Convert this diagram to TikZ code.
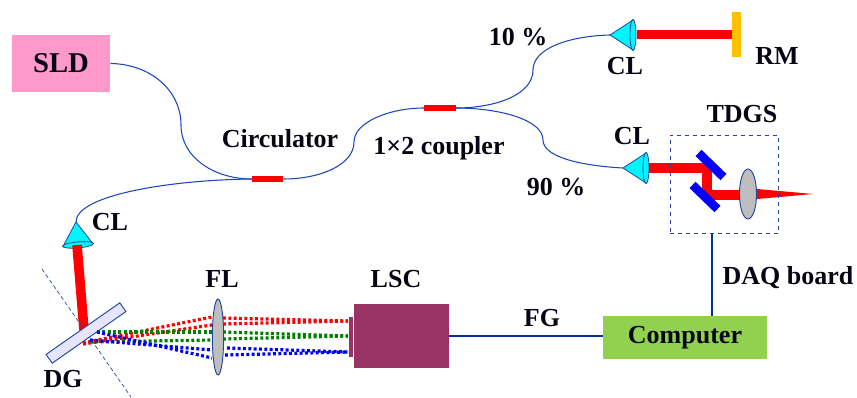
\documentclass[tikz,border=0pt]{standalone}
\usepackage{fontspec}
\setmainfont{Liberation Serif}
\usetikzlibrary{shapes.geometric}
\definecolor{fiber}{RGB}{30,70,190}
\definecolor{edgeblue}{RGB}{30,70,160}
\definecolor{wireblue}{RGB}{0,51,153}
\definecolor{conecyan}{RGB}{0,245,255}
\definecolor{lensgray}{RGB}{190,190,190}
\definecolor{sldpink}{RGB}{255,153,204}
\definecolor{lscplum}{RGB}{153,51,102}
\definecolor{pcgreen}{RGB}{146,208,80}
\definecolor{rmyellow}{RGB}{255,192,0}
\definecolor{raygreen}{RGB}{0,128,0}
\definecolor{labelink}{RGB}{5,5,20}
\tikzset{
  lbl/.style={font=\bfseries\fontsize{19.5}{21}\selectfont, text=labelink, inner sep=0pt},
  fib/.style={draw=fiber, line width=0.8pt},
  beam/.style={draw=red, line width=7.2pt},
  wire/.style={draw=wireblue, line width=2pt},
  splice/.style={fill=red, draw=none, minimum width=23.5pt, minimum height=4.5pt, inner sep=0pt},
  lens/.style={ellipse, draw=edgeblue, fill=lensgray, line width=0.7pt, inner sep=0pt},
  mir/.style={fill=blue, draw=none, minimum width=26pt, minimum height=6.5pt, inner sep=0pt},
  ray/.style={line width=2.4pt, dash pattern=on 2.2pt off 1.8pt},
}
\newcommand{\collim}[3]{% name, tip position, rotation
  \begin{scope}[shift={(#2)}, rotate=#3]
    \coordinate (#1) at (0,0);
    \fill[conecyan, draw=edgeblue, line width=0.6pt] (0,0) -- (23,-15) -- (23,15) -- cycle;
    \draw[fill=conecyan, draw=edgeblue, line width=0.6pt] (23,0) ellipse (3 and 15.5);
  \end{scope}}
\begin{document}
\begin{tikzpicture}[x=0.75pt,y=-0.75pt]
\useasboundingbox (0,0) rectangle (857,398);

% top part
\node[fill=sldpink, minimum width=73.5pt, minimum height=43pt, inner sep=0pt, text=labelink, font=\bfseries\fontsize{21.5}{23}\selectfont] (SLD) at (61,63.5) {\raisebox{-1.8pt}{SLD}};
\node[splice] (circ) at (267.5,179) {};
\node[splice] (coup) at (440,108) {};

\collim{cl1}{610,35}{0}
\collim{cl2}{623,168}{0}
\collim{cl3}{76,222}{-85}

\draw[fib] (SLD.east) .. controls (150,64) and (181,90) .. (181,125)
  .. controls (181,158) and (215,179) .. (circ.west);
\draw[fib] (circ.west) .. controls (170,180) and (76,195) .. (cl3);
\draw[fib] (circ.east) .. controls (320,179) and (354,165) .. (354,142)
  .. controls (354,122) and (390,108) .. (coup.west);
\draw[fib] (coup.east) .. controls (495,108) and (533,95) .. (533,70)
  .. controls (533,48) and (570,36) .. (cl1);
\draw[fib] (coup.east) .. controls (500,108) and (543,120) .. (543,140)
  .. controls (543,158) and (585,166) .. (cl2);

% beams
\node[fill=rmyellow, draw=none, minimum width=6.5pt, minimum height=34pt, inner sep=0pt] (RMbar) at (736.5,34.5) {};
\draw[beam] (637,34.5) -- (RMbar.west);
\draw[beam] (649,168) -- (707,168) -- (707,195) -- (745,195);
\node[mir, rotate=-44] (m1) at (711,165) {};
\node[mir, rotate=-44] (m2) at (705,197) {};
\node[lens, minimum width=12.8pt, minimum height=37.5pt] (tl) at (748,194) {};
\fill[red] (tl.east |- 0,189) -- (813,194) -- (tl.east |- 0,199) -- cycle;
\node[draw=edgeblue, dashed, line width=0.7pt, minimum width=81pt, minimum height=74pt, inner sep=0pt] (TDGS) at (724,184.5) {};

% grating side
\draw[beam] (77,245) -- (84,330);
\draw[edgeblue, densely dashed, line width=0.5pt] (42,269) -- (131,397);
\node[draw=edgeblue, fill=blue!10!white, rotate=35, minimum width=67.5pt, minimum height=8pt, inner sep=0pt, line width=0.7pt] (DG) at (86,333) {};
\node[lens, minimum width=8.5pt, minimum height=57pt] (fl) at (218,337) {};

\draw[ray, red] (83,343) -- (212,317);
\draw[ray, red] (83,344) -- (212,325);
\draw[ray, red] (223,318) -- (348,321);
\draw[ray, red] (223,324) -- (348,321);
\draw[ray, raygreen] (97,332) -- (212,332);
\draw[ray, raygreen] (90,342) -- (212,340);
\draw[ray, raygreen] (223,332) -- (348,336);
\draw[ray, raygreen] (223,339) -- (348,336);
\draw[ray, blue] (97,332) -- (212,358);
\draw[ray, blue] (90,340) -- (212,350);
\draw[ray, blue] (227,348) -- (348,352);
\draw[ray, blue] (225,355) -- (348,352);

% boxes
\node[fill=lscplum, minimum width=71pt, minimum height=48pt, inner sep=0pt] (LSC) at (401.5,336) {};
\fill[lscplum] (349,317) rectangle (353,357);
\node[fill=pcgreen, minimum width=123pt, minimum height=32pt, inner sep=0pt, text=labelink, font=\bfseries\fontsize{19.5}{21}\selectfont] (PC) at (685,337.5) {\raisebox{-1.8pt}{Computer}};
\coordinate (daq) at (712,316);
\draw[wire] (LSC.east) -- (PC.west |- LSC.east);
\draw[wire] (TDGS.south -| daq) -- (daq);

% labels
\node[lbl] (l1) at (518,37) {10 \%};
\node[lbl] (l2) at (625,66) {CL};
\node[lbl] (l3) at (777,56) {RM};
\node[lbl] (l4) at (742,114) {TDGS};
\node[lbl] (l5) at (632,136) {CL};
\node[lbl] (l6) at (556,187) {90 \%};
\node[lbl] (l7) at (280,139) {Circulator};
\node[lbl] (l8) at (439,148) {1×2 coupler};
\node[lbl] (l9) at (110,222) {CL};
\node[lbl] (l10) at (222,279) {FL};
\node[lbl] (l11) at (396,279) {LSC};
\node[lbl] (l12) at (542,318) {FG};
\node[lbl] (l13) at (788,278) {DAQ board};
\node[lbl] (l14) at (63,379) {DG};
\end{tikzpicture}
\end{document}
